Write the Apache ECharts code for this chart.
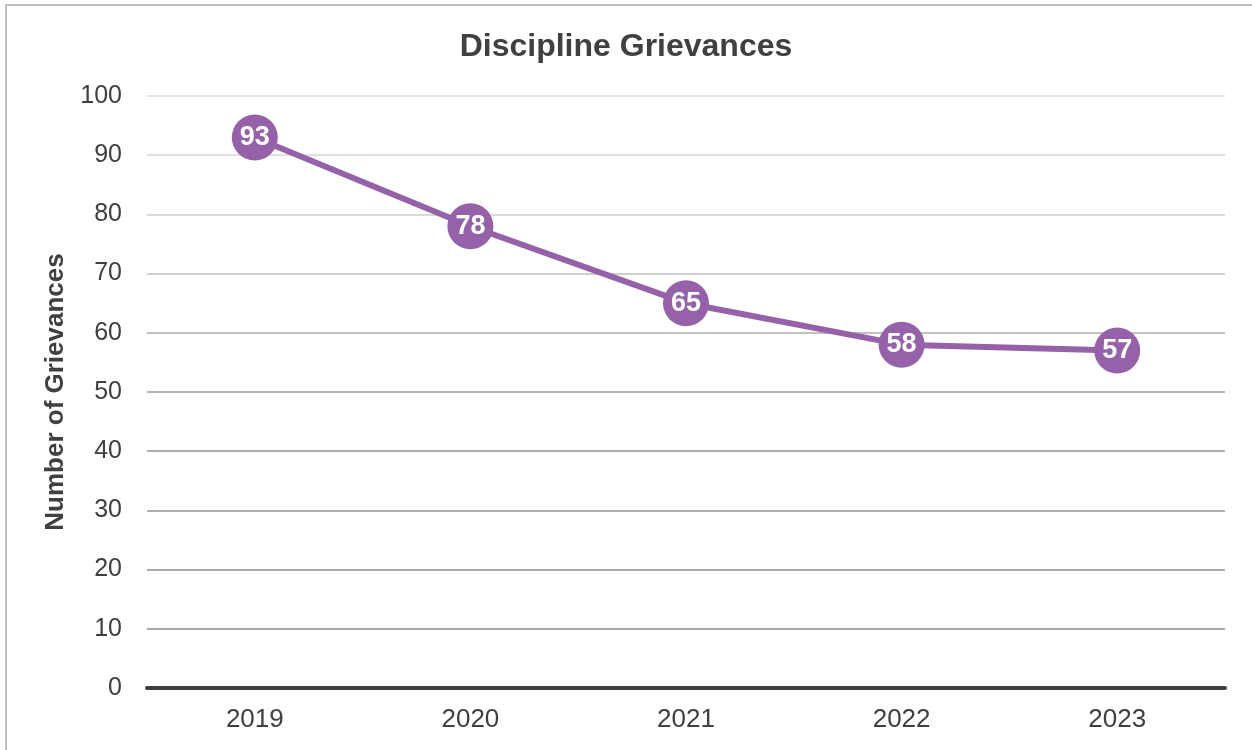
<!DOCTYPE html>
<html>
<head>
<meta charset="utf-8">
<script src="https://cdn.jsdelivr.net/npm/echarts@6/dist/echarts.min.js"></script>
<style>
html,body{margin:0;padding:0;background:#fff;}
#main{width:1252px;height:750px;}
</style>
</head>
<body>
<div id="main"></div>
<script>
var categories = ['2019', '2020', '2021', '2022', '2023'];
var grievances = [93, 78, 65, 58, 57];
var yTicks = { min: 0, max: 100, interval: 10 };

var FONT = '"Liberation Sans", Arial, sans-serif';
var gridColors = ['#404040', '#a9a9a9', '#ababab', '#adadad', '#afafaf', '#b4b4b4',
                  '#c2c2c2', '#cfcfcf', '#d9d9d9', '#e0e0e0', '#e4e4e4'];
var chart = echarts.init(document.getElementById('main'));
chart.setOption({
  animation: false,
  backgroundColor: '#ffffff',
  graphic: [{
    type: 'rect',
    shape: { x: 6, y: 5, width: 1300, height: 800 },
    style: { fill: 'none', stroke: '#c0c0c0', lineWidth: 2 },
    silent: true
  }],
  title: {
    text: 'Discipline Grievances',
    left: 'center',
    top: 26,
    textStyle: { fontFamily: FONT, fontSize: 32, fontWeight: 'bold', color: '#404040' }
  },
  grid: { left: 147, right: 27, top: 96, bottom: 62, containLabel: false },
  xAxis: {
    type: 'category',
    data: categories,
    boundaryGap: true,
    axisLine: { show: true, lineStyle: { color: '#404040', width: 4 } },
    axisTick: { show: false },
    axisLabel: { fontFamily: FONT, fontSize: 26, color: '#404040', margin: 19 },
    splitLine: { show: false }
  },
  yAxis: {
    type: 'value',
    min: yTicks.min,
    max: yTicks.max,
    interval: yTicks.interval,
    name: 'Number of Grievances',
    nameLocation: 'middle',
    nameGap: 78,
    nameRotate: 90,
    nameTextStyle: { fontFamily: FONT, fontSize: 26, fontWeight: 'bold', color: '#404040' },
    axisLine: { show: false },
    axisTick: { show: false },
    axisLabel: { fontFamily: FONT, fontSize: 25, color: '#404040', margin: 25 },
    splitLine: { lineStyle: { color: gridColors, width: 2 } }
  },
  series: [{
    type: 'line',
    data: grievances,
    lineStyle: { color: '#9562a9', width: 6 },
    itemStyle: { color: '#9562a9' },
    symbol: 'circle',
    symbolSize: 46,
    z: 5,
    label: {
      show: true,
      position: 'inside',
      fontFamily: FONT,
      fontSize: 27,
      fontWeight: 'bold',
      color: '#ffffff'
    }
  }]
});
</script>
</body>
</html>
